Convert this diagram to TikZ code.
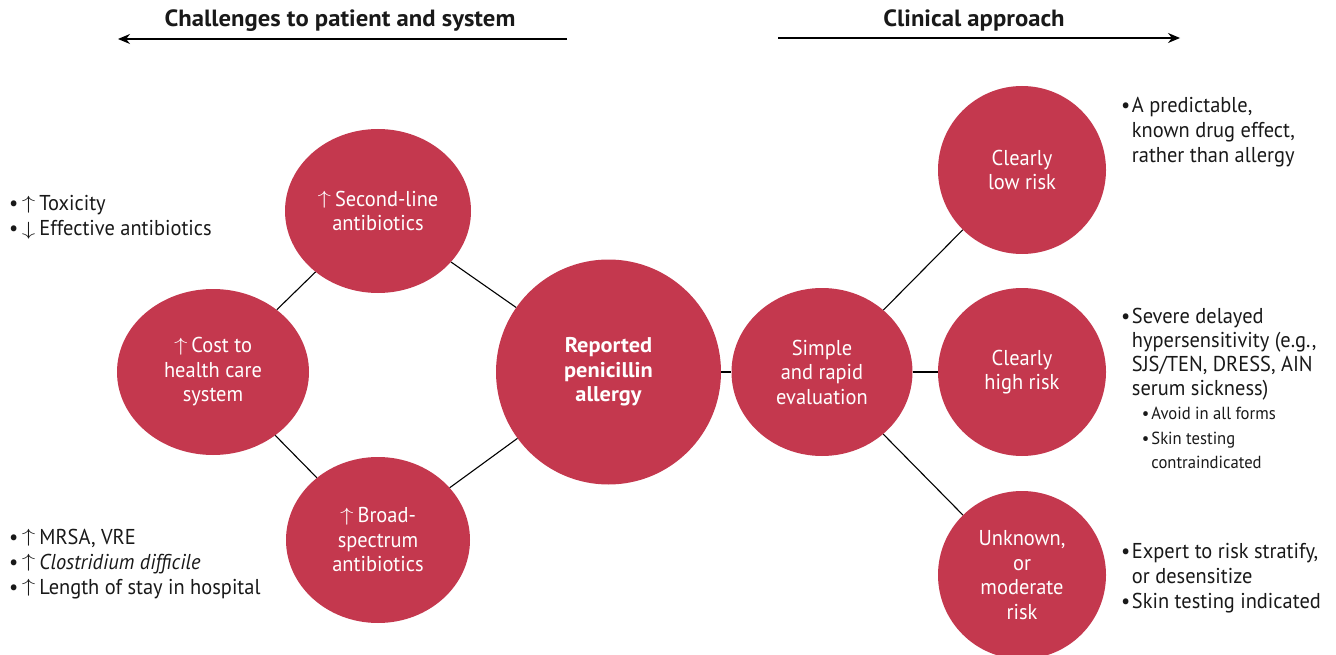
\documentclass[tikz,border=0pt]{standalone}
\usepackage{fontspec}
\setmainfont{PT Sans}[FakeStretch=0.95, BoldFeatures={FakeStretch=1.05}]
\usetikzlibrary{shapes.geometric,arrows.meta}
\definecolor{circ}{RGB}{196,56,78}
\definecolor{ink}{RGB}{25,25,25}
\newcommand{\upar}{\raisebox{1.6pt}{\scalebox{1.3}[0.92]{$\uparrow$}}}
\newcommand{\dnar}{\raisebox{0.2pt}{\scalebox{1.3}[0.92]{$\downarrow$}}}
\newcommand{\bul}{\textbullet}
\newcommand{\subit}[1]{{\fontsize{17.5}{17.5}\selectfont\hspace{10pt}\textbullet\hspace{2pt}#1}}
\newcommand{\subcont}[1]{{\fontsize{17.5}{17.5}\selectfont\hspace{10pt}\phantom{\textbullet}\hspace{2pt}#1}}
\begin{document}
\begin{tikzpicture}[x=1pt,y=-1pt,
 blob/.style={ellipse, fill=circ, draw=none, inner sep=0pt, text=white, align=center, font=\fontsize{21.5}{24.5}\selectfont},
 link/.style={draw=black, line width=1.1pt},
 hdr/.style={font=\bfseries\fontsize{23.5}{25}\selectfont, inner sep=0pt, anchor=base, text=ink},
 txt/.style={font=\fontsize{21.5}{25}\selectfont, inner sep=0pt, anchor=base west, text=ink},
 harrow/.style={line width=1.1pt, -{Stealth[length=12pt,width=10pt]}}]
\useasboundingbox (0,0) rectangle (1336,655);
\clip (0,0) rectangle (1336,655);

% headers
\node[hdr] (h1) at (340,27) {Challenges to patient and system};
\node[hdr] (h2) at (974,27) {Clinical approach};
\coordinate (la1) at (567,39);
\coordinate (la2) at (118,39);
\coordinate (ra1) at (778,38);
\coordinate (ra2) at (1180,38);
\draw[harrow] (la1) -- (la2);
\draw[harrow] (ra1) -- (ra2);

% circles
\node[blob, minimum width=192pt, minimum height=166pt] (cost) at (213,372) {\upar\hspace{4pt}Cost to\\health care\\system};
\node[blob, minimum width=186pt, minimum height=164pt] (second) at (378,211) {\upar\hspace{4pt}Second-line\\antibiotics};
\node[blob, minimum width=184pt, minimum height=166pt] (broad) at (378,540) {\upar\hspace{4pt}Broad-\\spectrum\\antibiotics};
\node[blob, minimum width=225pt, minimum height=225pt, font=\bfseries\fontsize{21.3}{24.5}\selectfont] (pen) at (608.5,372) {Reported\\penicillin\\allergy};
\node[blob, minimum width=181pt, minimum height=168pt] (simple) at (822,372) {Simple\\and rapid\\evaluation};
\node[blob, minimum width=168pt, minimum height=168pt] (low) at (1022,170) {Clearly\\low risk};
\node[blob, minimum width=168pt, minimum height=168pt] (high) at (1022,372) {Clearly\\high risk};
\node[blob, minimum width=168pt, minimum height=168pt] (unk) at (1022,575) {Unknown,\\or\\moderate\\risk};

% connectors
\draw[link] (cost) -- (second);
\draw[link] (cost) -- (broad);
\draw[link] (second) -- (pen);
\draw[link] (broad) -- (pen);
\draw[link] (pen) -- (simple);
\draw[link] (simple) -- (low);
\draw[link] (simple) -- (high);
\draw[link] (simple) -- (unk);

% left texts
\node[txt] (tox) at (9,211) {\begin{tabular}[t]{@{}l@{}}
\bul\hspace{3.5pt}\upar\hspace{4pt}Toxicity\\
\bul\hspace{3.5pt}\dnar\hspace{4pt}Effective antibiotics
\end{tabular}};
\node[txt] (mrsa) at (9,544) {\begin{tabular}[t]{@{}l@{}}
\bul\hspace{3.5pt}\upar\hspace{4pt}MRSA, VRE\\
\bul\hspace{3.5pt}\upar\hspace{4pt}\textit{Clostridium difficile}\\
\bul\hspace{3.5pt}\upar\hspace{4pt}Length of stay in hospital
\end{tabular}};

% right texts
\node[txt] (lowtxt) at (1121,113) {\begin{tabular}[t]{@{}l@{\hspace{1.5pt}}l@{}}
\bul & A predictable,\\
 & known drug effect,\\
 & rather than allergy
\end{tabular}};
\node[txt, font=\fontsize{21.5}{24.2}\selectfont] (hightxt) at (1121,323) {\begin{tabular}[t]{@{}l@{\hspace{1.5pt}}l@{}}
\bul & Severe delayed\\
 & hypersensitivity (e.g.,\\
 & SJS/TEN, DRESS, AIN\\
 & serum sickness)\\
 & \subit{Avoid in all forms}\\
 & \subit{Skin testing}\\
 & \subcont{contraindicated}
\end{tabular}};
\node[txt] (unktxt) at (1121,558) {\begin{tabular}[t]{@{}l@{\hspace{1.5pt}}l@{}}
\bul & Expert to risk stratify,\\
 & or desensitize\\
\bul & Skin testing indicated
\end{tabular}};
\end{tikzpicture}
\end{document}
